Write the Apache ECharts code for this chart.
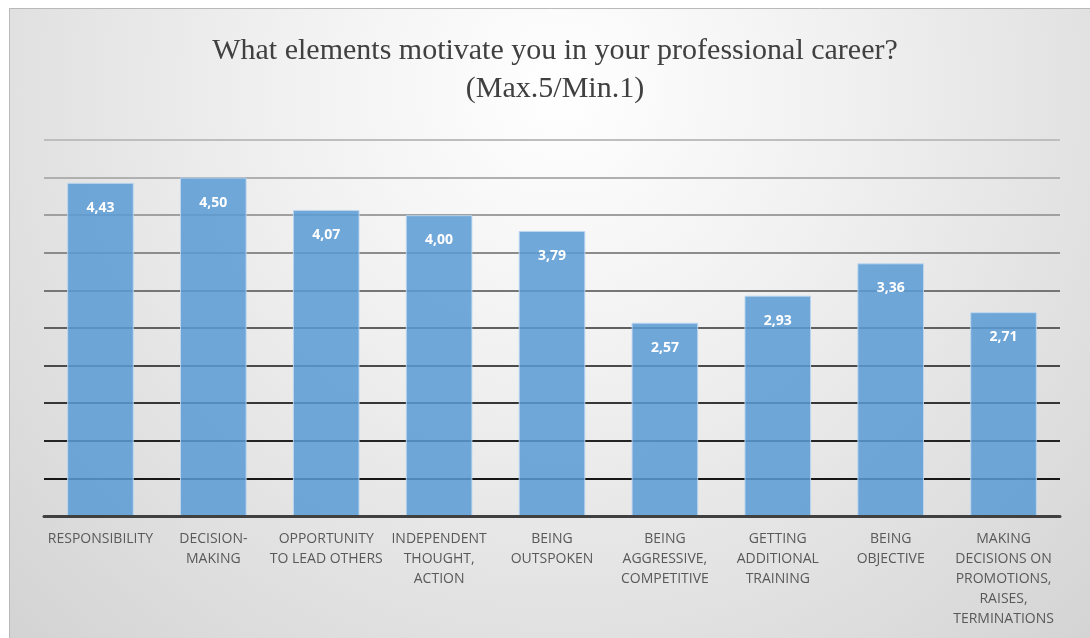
<!DOCTYPE html>
<html>
<head>
<meta charset="utf-8">
<script src="https://cdn.jsdelivr.net/npm/echarts@6/dist/echarts.min.js"></script>
<style>
  html, body { margin: 0; padding: 0; background: #ffffff; }
  #chart { width: 1090px; height: 638px; }
</style>
</head>
<body>
<div id="chart"></div>
<script>
// Survey answers: average score per motivating element (scale 1 to 5)
const categories = [
  'RESPONSIBILITY',
  'DECISION-\nMAKING',
  'OPPORTUNITY\nTO LEAD OTHERS',
  'INDEPENDENT\nTHOUGHT,\nACTION',
  'BEING\nOUTSPOKEN',
  'BEING\nAGGRESSIVE,\nCOMPETITIVE',
  'GETTING\nADDITIONAL\nTRAINING',
  'BEING\nOBJECTIVE',
  'MAKING\nDECISIONS ON\nPROMOTIONS,\nRAISES,\nTERMINATIONS'
];
const scores = [4.43, 4.50, 4.07, 4.00, 3.79, 2.57, 2.93, 3.36, 2.71];

// Value axis range and step
const axisMin = 0;
const axisMax = 5;
const axisStep = 0.5;

// Horizontal gridline levels and their shades: dark near the base, fading upwards
const gridLevels = [0.5, 1.0, 1.5, 2.0, 2.5, 3.0, 3.5, 4.0, 4.5, 5.0];
const gridShades = ['#161616', '#242424', '#363636', '#4a4a4a', '#606060',
                    '#767676', '#8c8c8c', '#a0a0a0', '#b0b0b0', '#bebebe'];

const chart = echarts.init(document.getElementById('chart'), null, { renderer: 'canvas' });

const option = {
  backgroundColor: '#ffffff',
  animation: false,
  graphic: [{
    type: 'rect',
    z: -100,
    silent: true,
    shape: { x: 9.5, y: 8.5, width: 1120, height: 700 },
    style: {
      fill: new echarts.graphic.RadialGradient(560, 90, 780, [
        { offset: 0, color: '#ffffff' },
        { offset: 0.35, color: '#f1f1f1' },
        { offset: 1, color: '#d3d3d3' }
      ], true),
      stroke: '#b9b9b9',
      lineWidth: 1
    }
  }],
  title: {
    text: 'What elements motivate you in your professional career?\n(Max.5/Min.1)',
    left: 555,
    textAlign: 'center',
    top: 32,
    padding: 0,
    textStyle: {
      fontFamily: '"Liberation Serif", "DejaVu Serif", serif',
      fontSize: 30,
      fontWeight: 'normal',
      color: '#404040',
      lineHeight: 38
    }
  },
  grid: { left: 44, right: 30, top: 140, bottom: 122, containLabel: false },
  xAxis: {
    type: 'category',
    data: categories,
    axisLine: { show: true, lineStyle: { color: '#404040', width: 3 } },
    axisTick: { show: false },
    axisLabel: {
      interval: 0,
      margin: 13,
      color: '#595959',
      fontFamily: '"Open Sans", "Noto Sans", sans-serif',
      fontSize: 14,
      lineHeight: 20,
      align: 'center'
    },
    z: 5
  },
  yAxis: {
    type: 'value',
    min: axisMin,
    max: axisMax,
    interval: axisStep,
    axisLine: { show: false },
    axisTick: { show: false },
    axisLabel: { show: false },
    splitLine: { show: false }
  },
  series: [{
    type: 'bar',
    z: 2,
    data: scores,
    barWidth: '59%',
    itemStyle: {
      color: 'rgba(91,155,213,0.86)',
      borderColor: 'rgba(190,215,240,0.9)',
      borderWidth: 1
    },
    label: {
      show: true,
      position: 'insideTop',
      distance: 18,
      color: '#ffffff',
      fontFamily: '"Open Sans", "Noto Sans", sans-serif',
      fontWeight: 'bold',
      fontSize: 14,
      lineHeight: 14,
      formatter: p => p.value.toFixed(2).replace('.', ',')
    },
    // gridlines sit underneath the semi-transparent bars
    markLine: {
      z: 1,
      silent: true,
      symbol: ['none', 'none'],
      label: { show: false },
      emphasis: { disabled: true },
      data: gridLevels.map((v, i) => ({
        yAxis: v,
        lineStyle: { color: gridShades[i], width: 2, type: 'solid' }
      }))
    }
  }]
};

chart.setOption(option);
</script>
</body>
</html>
